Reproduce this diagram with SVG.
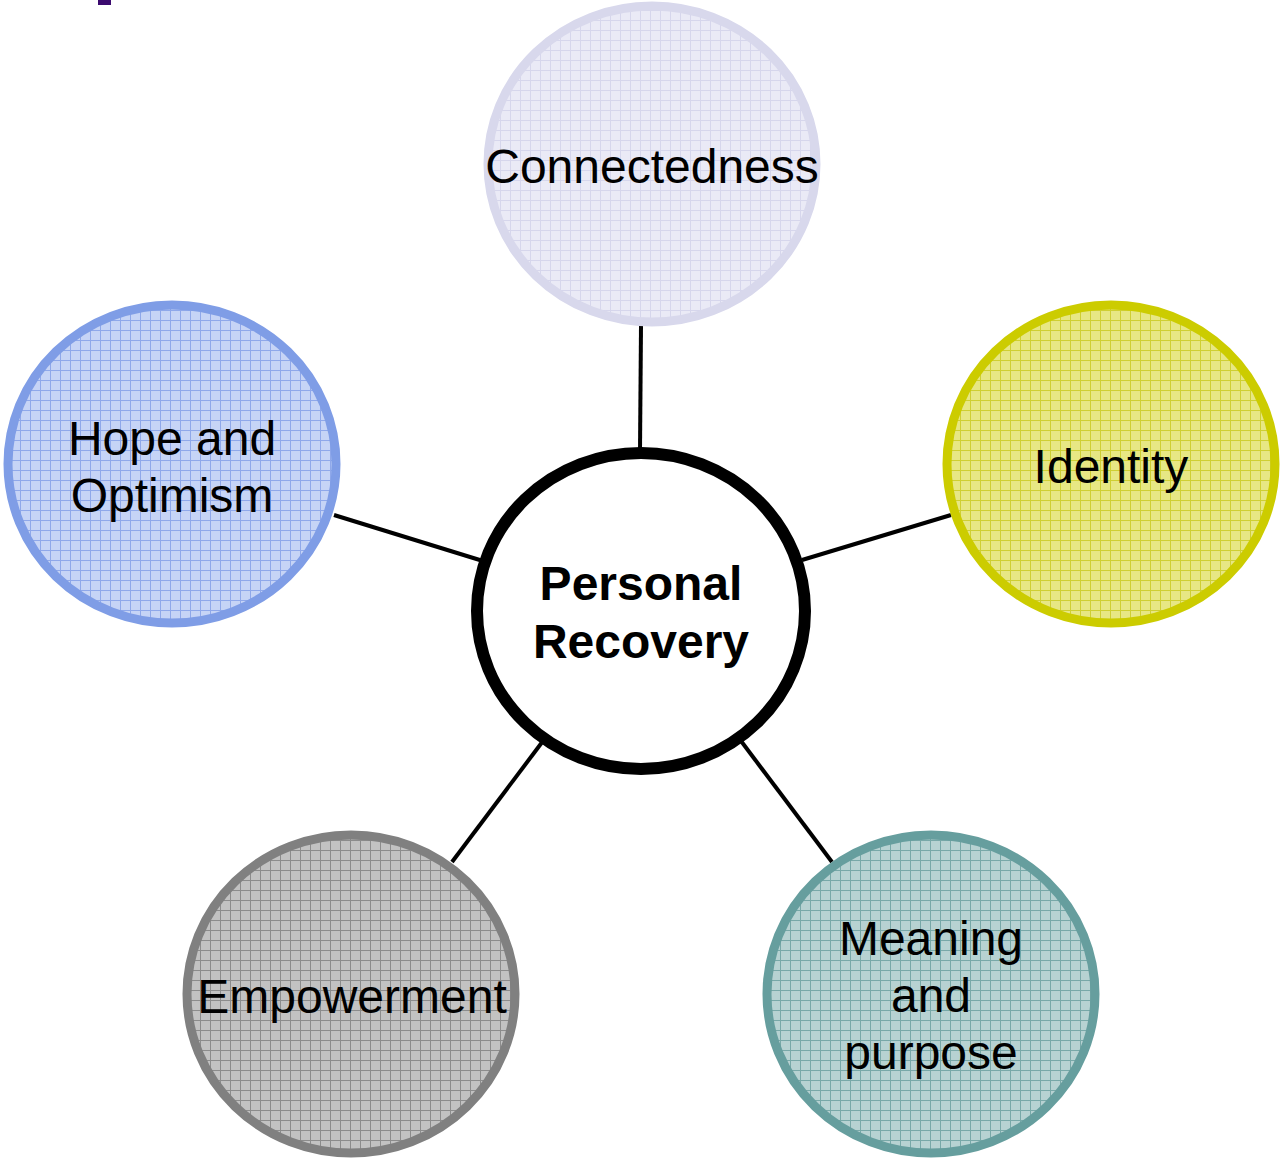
<svg xmlns="http://www.w3.org/2000/svg" width="1281" height="1160" viewBox="0 0 1281 1160">
  <style>
    .lbl { font-family: "Liberation Sans", Arial, sans-serif; font-size: 48px; fill: #000; text-anchor: middle; }
    .bold { font-weight: bold; }
    .ring { stroke-width: 9; }
    .link { stroke: #000; stroke-width: 4; fill: none; }
  </style>
  <defs>
    <!-- fine grid texture used to fill the outer bubbles -->
    <pattern id="gridLavender" patternUnits="userSpaceOnUse" width="10" height="10">
      <rect width="10" height="10" fill="#eaeaf6"/>
      <path d="M0 0.5H10M0.5 0V10" stroke="#d6d6ec" stroke-width="1"/>
    </pattern>
    <pattern id="gridBlue" patternUnits="userSpaceOnUse" width="10" height="10">
      <rect width="10" height="10" fill="#c6d4f6"/>
      <path d="M0 0.5H10M0.5 0V10" stroke="#8fa8ea" stroke-width="1"/>
    </pattern>
    <pattern id="gridYellow" patternUnits="userSpaceOnUse" width="10" height="10">
      <rect width="10" height="10" fill="#e7e784"/>
      <path d="M0 0.5H10M0.5 0V10" stroke="#cfcf33" stroke-width="1"/>
    </pattern>
    <pattern id="gridGrey" patternUnits="userSpaceOnUse" width="10" height="10">
      <rect width="10" height="10" fill="#c2c2c2"/>
      <path d="M0 0.5H10M0.5 0V10" stroke="#8c8c8c" stroke-width="1"/>
    </pattern>
    <pattern id="gridTeal" patternUnits="userSpaceOnUse" width="10" height="10">
      <rect width="10" height="10" fill="#b7d2d2"/>
      <path d="M0 0.5H10M0.5 0V10" stroke="#78a8a8" stroke-width="1"/>
    </pattern>
  </defs>

  <rect width="1281" height="1160" fill="#fff"/>
  <!-- small purple mark at the top edge -->
  <rect x="98" y="0" width="13" height="5" fill="#3b0a6f"/>

  <g id="connectors">
    <line class="link" x1="641" y1="326" x2="640" y2="450"/>
    <line class="link" x1="334" y1="515" x2="483" y2="561"/>
    <line class="link" x1="951" y1="515" x2="802" y2="560"/>
    <line class="link" x1="452" y1="862" x2="543" y2="741"/>
    <line class="link" x1="832" y1="862" x2="741" y2="741"/>
  </g>

  <g id="connectedness">
    <ellipse class="ring" cx="652" cy="164" rx="164" ry="158" fill="url(#gridLavender)" stroke="#d8d8ec"/>
    <text class="lbl" x="652" y="183">Connectedness</text>
  </g>

  <g id="hope">
    <ellipse class="ring" cx="172" cy="464" rx="164" ry="159" fill="url(#gridBlue)" stroke="#7f9de6"/>
    <text class="lbl" x="172" y="455">Hope and</text>
    <text class="lbl" x="172" y="512">Optimism</text>
  </g>

  <g id="identity">
    <ellipse class="ring" cx="1111" cy="464" rx="164" ry="159" fill="url(#gridYellow)" stroke="#cccc00"/>
    <text class="lbl" x="1111" y="483">Identity</text>
  </g>

  <g id="empowerment">
    <ellipse class="ring" cx="351" cy="994" rx="164" ry="159" fill="url(#gridGrey)" stroke="#808080"/>
    <text class="lbl" x="352" y="1013">Empowerment</text>
  </g>

  <g id="meaning">
    <ellipse class="ring" cx="931" cy="994" rx="164" ry="159" fill="url(#gridTeal)" stroke="#669e9e"/>
    <text class="lbl" x="931" y="955">Meaning</text>
    <text class="lbl" x="931" y="1012">and</text>
    <text class="lbl" x="931" y="1069">purpose</text>
  </g>

  <g id="personal-recovery">
    <ellipse cx="641" cy="611" rx="164" ry="158" fill="#fff" stroke="#000" stroke-width="12"/>
    <text class="lbl bold" x="641" y="600">Personal</text>
    <text class="lbl bold" x="641" y="658">Recovery</text>
  </g>
</svg>
